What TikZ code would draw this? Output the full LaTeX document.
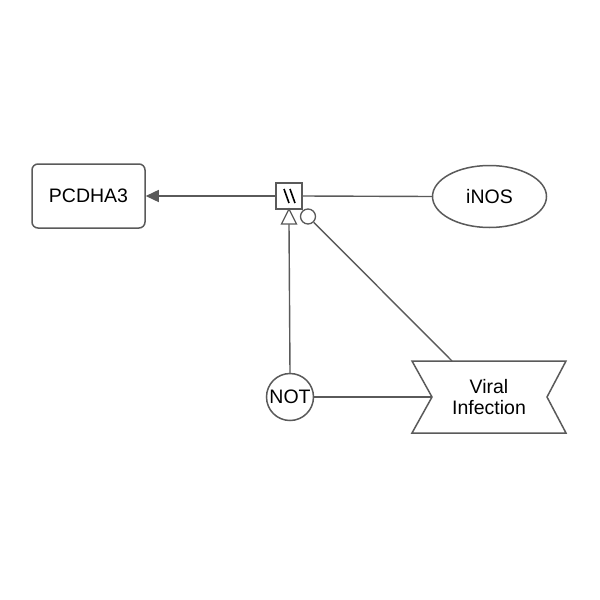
\documentclass[tikz,border=0pt]{standalone}
\usepackage{fontspec}
\setmainfont{Liberation Sans}
\usetikzlibrary{shapes.geometric,arrows.meta}
\definecolor{edge}{HTML}{5A5A5A}
\tikzset{
  lbl/.style={font=\fontsize{19.5}{21}\selectfont, text=black, align=center},
  shp/.style={draw=edge, line width=1.5pt},
  conn/.style={draw=edge, line width=1.4pt},
}
\begin{document}
\begin{tikzpicture}[x=1pt,y=-1pt]
\useasboundingbox[fill=white] (0,0) rectangle (600,600);
% nodes
\node[shp, rounded corners=6pt, minimum width=113pt, minimum height=64pt, lbl] (pcd) at (88.5,196) {PCDHA3};
\node[shp, ellipse, minimum width=114pt, minimum height=62pt, inner sep=0pt, lbl] (inos) at (489.5,196.5) {iNOS};
\node[shp, circle, minimum size=47pt, inner sep=0pt, lbl] (not) at (290,397) {NOT};
\node[draw=edge, line width=1.5pt, minimum size=26pt, inner sep=0pt, fill=white] (pr) at (289,196) {};
\draw[black, line width=1.6pt] (284,189) -- (289,203) (290,189) -- (295,203);
% viral infection
\draw[shp] (412,361) -- (566,361) -- (547,397) -- (566,433) -- (412,433) -- (432,397) -- cycle;
\coordinate (vtop) at (452,361);
\coordinate (vleft) at (432,397);
\node[lbl] (vir) at (489,397) {Viral\\Infection};
% connectors
\draw[conn, -{Triangle[length=13pt,width=12pt]}] (pr.west) -- (pcd.east);
\draw[conn] (inos.west) -- (pr.east);
\node[draw=edge, line width=1.3pt, circle, minimum size=15pt, inner sep=0pt] (cat) at (308,216.5) {};
\draw[conn] (vtop) -- (cat);
\coordinate (tipb) at (289,224);
\draw[conn] (not.north) -- (tipb);
\draw[draw=edge, line width=1.3pt, fill=white] (289,209) -- (296.5,224) -- (281.5,224) -- cycle;
\draw[conn] (not.east) -- (vleft);
\end{tikzpicture}
\end{document}
